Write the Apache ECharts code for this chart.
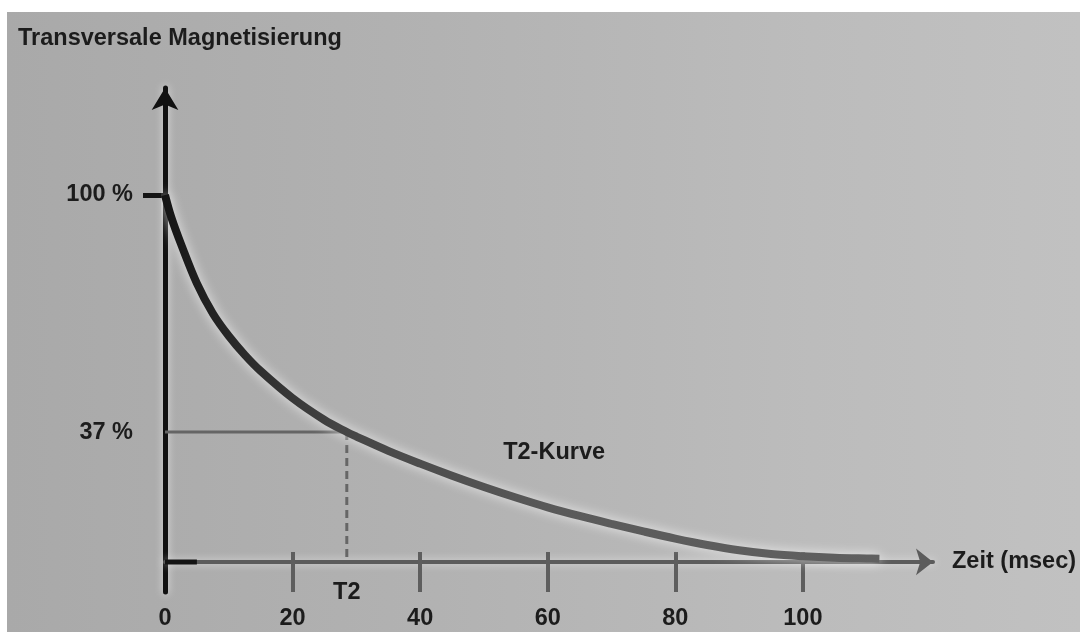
<!DOCTYPE html>
<html>
<head>
<meta charset="utf-8">
<script src="https://cdn.jsdelivr.net/npm/echarts@6.0.0/dist/echarts.min.js"></script>
<style>
  html, body { margin: 0; padding: 0; background: #ffffff; }
  #wrap {
    position: absolute; left: 0; top: 0; width: 1080px; height: 632px;
    background:
      linear-gradient(to right, #a9a9a9 0%, #b2b2b2 40%, #bcbcbc 75%, #c1c1c1 100%) 7px 12px / 1073px 620px no-repeat,
      #ffffff;
  }
  #chart { position: absolute; left: 0; top: 0; width: 1080px; height: 632px; }
</style>
</head>
<body>
<div id="wrap"></div>
<div id="chart"></div>
<script>
// ---- data ----
const timeMs = [0, 1, 2.5, 5, 7.5, 10, 12.5, 15, 20, 25, 28.5, 30, 35, 40, 45, 50, 55, 60, 65, 70, 75, 80, 85, 90, 95, 100, 105, 110, 112];
const magnetisation = [100, 94, 87, 76.5, 68.5, 62.5, 57.5, 53.2, 46, 40.2, 37, 35.8, 32.0, 28.6, 25.4, 22.4, 19.6, 17.0, 14.7, 12.6, 10.6, 8.7, 7.0, 5.6, 4.6, 4.0, 3.6, 3.4, 3.35];
const xTickLabels = [0, 20, 40, 60, 80, 100];
const xTickMarks = [20, 40, 60, 80, 100];
const yTickLabels = [100, 37];
const T2 = 28.5;            // time where the curve reaches 37 %
const T2_LEVEL = 37;        // percent
const AXIS_CROSS = 2.5;     // level of the time axis on the percent scale
const curveLabel = { t: 61, v: 31.6, text: 'T2-Kurve' };

const FONT = "'Liberation Sans Narrow', 'Liberation Sans', Arial, sans-serif";
const TXT = { fontFamily: FONT, fontWeight: 'bold', fontSize: 23.5, color: '#1c1c1c', lineHeight: 26 };

const curve = timeMs.map((t, i) => [t, magnetisation[i]]);

const chart = echarts.init(document.getElementById('chart'), null, { renderer: 'canvas' });
chart.setOption({
  animation: false,
  backgroundColor: 'transparent',
  title: {
    text: 'Transversale Magnetisierung',
    left: 18, top: 26, padding: 0,
    textStyle: Object.assign({}, TXT)
  },
  grid: { left: 165, right: 147, top: 88, bottom: 40, outerBoundsMode: 'none', containLabel: false },
  xAxis: [
    {
      type: 'value', min: 0, max: 120.4, position: 'bottom',
      name: 'Zeit (msec)', nameLocation: 'end', nameGap: 19,
      nameTextStyle: Object.assign({}, TXT, { verticalAlign: 'middle' }),
      splitLine: { show: false },
      axisLine: {
        show: true, onZero: true, onZeroAxisIndex: 1,
        symbol: ['none', 'arrow'], symbolSize: [20, 17],
        lineStyle: { color: '#5c5c5c', width: 4, shadowColor: 'rgba(255,255,255,0.6)', shadowBlur: 8 }
      },
      axisTick: { show: false },
      axisLabel: Object.assign({ show: true, customValues: xTickLabels, margin: 14 }, TXT)
    },
    {
      type: 'value', min: 0, max: 120.4, position: 'bottom',
      splitLine: { show: false },
      axisLine: { show: false, onZero: false },
      axisTick: { show: true, customValues: xTickMarks, length: 40, inside: true,
        lineStyle: { color: '#5e5e5e', width: 4 } },
      axisLabel: Object.assign({ show: true, customValues: [T2], margin: -12, formatter: () => 'T2' }, TXT)
    }
  ],
  yAxis: [
    {
      type: 'value', min: -5.5, max: 128.4,
      splitLine: { show: false },
      axisLine: {
        show: true, onZero: false,
        symbol: ['none', 'arrow'], symbolSize: [20, 22],
        lineStyle: { color: '#111111', width: 5, shadowColor: 'rgba(255,255,255,0.6)', shadowBlur: 8 }
      },
      axisTick: { show: true, customValues: [100], length: 22, lineStyle: { color: '#141414', width: 5 } },
      axisLabel: Object.assign({ show: true, customValues: yTickLabels, margin: 32,
        formatter: v => v + ' %' }, TXT)
    },
    {
      type: 'value', min: -8, max: 125.9, show: false
    }
  ],
  series: [
    {
      type: 'line', xAxisIndex: 0, yAxisIndex: 0,
      data: [[0, T2_LEVEL], [T2, T2_LEVEL]],
      showSymbol: false, silent: true, z: 1,
      lineStyle: { color: '#656565', width: 3 }
    },
    {
      type: 'line', xAxisIndex: 0, yAxisIndex: 0,
      data: [[T2, T2_LEVEL], [T2, AXIS_CROSS]],
      showSymbol: false, silent: true, z: 1,
      lineStyle: { color: '#666666', width: 3, type: [8, 5] }
    },
    {
      type: 'line', xAxisIndex: 0, yAxisIndex: 0,
      data: [[0, AXIS_CROSS], [5, AXIS_CROSS]],
      showSymbol: false, silent: true, z: 2,
      lineStyle: { color: '#141414', width: 5 }
    },
    {
      type: 'line', xAxisIndex: 0, yAxisIndex: 0,
      data: curve,
      showSymbol: false, smooth: 0.35, silent: true, z: 3,
      lineStyle: {
        width: 8,
        color: { type: 'linear', x: 0, y: 0, x2: 1, y2: 0, colorStops: [
          { offset: 0, color: '#141414' },
          { offset: 0.25, color: '#454545' },
          { offset: 0.55, color: '#5a5a5a' },
          { offset: 1, color: '#606060' }
        ] },
        shadowColor: 'rgba(255,255,255,0.75)', shadowBlur: 12
      },
      markPoint: {
        symbol: 'circle', symbolSize: 0, silent: true,
        data: [{ coord: [curveLabel.t, curveLabel.v], value: curveLabel.text }],
        label: Object.assign({ show: true, position: 'inside', formatter: curveLabel.text }, TXT)
      }
    }
  ]
});
</script>
</body>
</html>
